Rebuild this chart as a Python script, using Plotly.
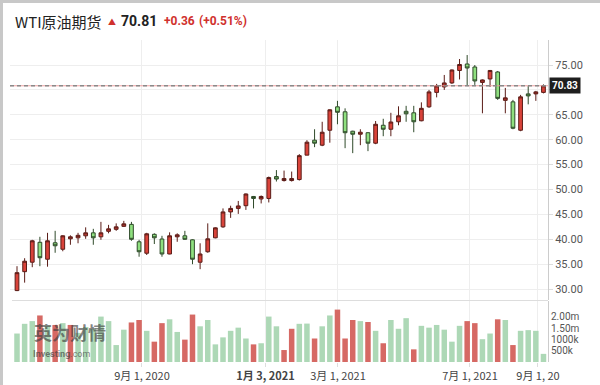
import plotly.graph_objects as go

# ---------------- data (weekly candles) ----------------
opens = [29.7, 33.5, 35.4, 39.4, 36.0, 39.3, 38.0, 40.1, 40.3, 40.7,
         41.3, 40.5, 41.6, 42.0, 42.6, 43.0, 39.5, 37.2, 41.0, 40.06,
         37.05, 40.5, 40.7, 39.9, 35.4, 37.5, 40.3, 42.5, 45.5, 46.2,
         46.75, 48.6, 48.1, 48.2, 52.6, 51.8, 51.8, 52.0, 56.9, 59.9,
         58.9, 61.9, 66.6, 65.6, 61.7, 61.1, 61.4, 59.3, 62.9, 62.1,
         63.6, 65.7, 65.4, 63.8, 66.6, 69.5, 70.6, 71.4, 73.9, 75.2,
         74.6, 71.5, 72.2, 73.6, 67.9, 67.6, 61.9, 69.2, 69.2, 69.5]
highs = [34.6, 36.2, 39.9, 40.5, 41.3, 41.7, 40.8, 40.8, 41.3, 42.4,
         42.1, 43.5, 42.9, 43.2, 43.7, 43.5, 39.9, 41.3, 41.2, 40.7,
         41.4, 41.2, 41.7, 40.0, 39.2, 43.2, 42.4, 46.2, 46.75, 47.7,
         49.2, 48.7, 48.8, 52.6, 53.9, 53.8, 53.6, 57.1, 59.9, 62.1,
         63.6, 66.1, 67.8, 66.3, 61.8, 62.1, 61.5, 63.75, 64.2, 65.4,
         66.7, 66.8, 66.8, 67.5, 70.0, 71.2, 73.0, 74.1, 76.2, 77.0,
         75.0, 72.1, 74.0, 73.8, 70.4, 68.0, 69.0, 70.8, 69.8, 71.1]
lows = [29.6, 31.3, 34.4, 34.6, 34.5, 37.3, 37.6, 38.9, 39.2, 40.1,
        38.9, 39.9, 41.2, 41.7, 42.5, 39.7, 36.5, 36.85, 39.05, 36.5,
        37.0, 39.5, 39.9, 35.0, 34.0, 37.3, 40.2, 42.3, 44.3, 45.1,
        45.9, 46.2, 47.2, 47.4, 51.6, 51.6, 51.6, 51.8, 56.9, 58.5,
        58.7, 59.4, 63.1, 58.3, 57.3, 58.9, 57.7, 59.1, 60.7, 60.7,
        62.9, 63.6, 61.5, 63.7, 66.4, 68.5, 70.0, 71.2, 72.1, 70.9,
        71.0, 65.3, 70.6, 68.0, 65.3, 62.1, 61.7, 67.1, 67.8, 69.3]
closes = [33.3, 35.6, 39.7, 36.3, 39.7, 38.7, 40.7, 40.5, 40.8, 41.3,
          40.3, 41.3, 42.1, 42.5, 43.1, 40.0, 37.5, 41.1, 40.3, 37.05,
          40.7, 40.9, 40.0, 36.0, 37.05, 40.1, 42.3, 45.5, 46.2, 46.7,
          49.1, 48.2, 48.6, 52.4, 52.1, 52.2, 52.2, 56.8, 59.5, 59.3,
          61.5, 66.0, 65.5, 61.4, 61.1, 61.5, 59.3, 63.1, 62.1, 63.55,
          64.8, 65.2, 63.6, 66.3, 69.6, 70.8, 71.4, 74.0, 75.1, 74.4,
          71.8, 72.0, 73.9, 68.3, 68.4, 62.3, 68.6, 68.8, 69.6, 70.83]
volumes = [1.26, 1.69, 1.81, 2.06, 1.60, 1.64, 1.72, 1.64, 1.29, 1.55,
           1.47, 2.01, 1.81, 0.75, 1.43, 1.75, 1.86, 1.38, 0.90, 1.72,
           1.89, 1.33, 0.99, 2.10, 1.58, 1.86, 0.78, 1.09, 1.38, 1.52,
           1.04, 0.78, 0.83, 2.01, 1.58, 0.53, 1.47, 1.69, 1.70, 1.04,
           1.58, 2.06, 2.32, 1.04, 1.86, 1.81, 1.77, 1.38, 0.83, 1.86,
           1.47, 1.94, 0.56, 1.60, 1.52, 1.64, 1.43, 0.90, 1.60, 1.81,
           1.72, 1.01, 1.26, 1.89, 1.86, 0.75, 1.38, 1.41, 1.38, 0.36]
volume_dir = "GGGRGRGRGGGGGGGRRGRRGGRRGGGGGGGRGGGRRGGRGGRRRGRGRGGGRGGGGGGRRGGRGRGGGG"

x_tick_pos = [16.38, 32.57, 42.07, 59.37, 68.28]
x_tick_text = ["9月 1, 2020", "<b>1月 3, 2021</b>", "3月 1, 2021", "7月 1, 2021", "9月 1, 20"]
price_ticks = [30, 35, 40, 45, 50, 55, 60, 65, 70, 75]
vol_tick_vals = [0.5, 1.0, 1.5, 2.0]
vol_tick_text = ["500k", "1000k", "1.50m", "2.00m"]
last_price = 70.83

title_name = "WTI原油期货"
title_price = "70.81"
title_change = "+0.36"
title_pct = "(+0.51%)"

# ---------------- layout helpers ----------------
W, H = 600, 385
L, R, T, B = 10, 52, 40, 23
PW, PH = W - L - R, H - T - B


def px(x):
    return (x - L) / PW


def py(y):
    return (H - B - y) / PH


xs = list(range(len(opens)))
vol_colors = ["#d4625c" if c == "R" else "#a9d6b3" for c in volume_dir]
# the 70.00 label is hidden behind the last-price tag in the reference
price_tick_text = ["" if v == 70 else "%.2f" % v for v in price_ticks]

fig = go.Figure()
fig.add_trace(go.Candlestick(
    x=xs, open=opens, high=highs, low=lows, close=closes,
    increasing=dict(fillcolor="#d9433a", line=dict(color="#5a1c17", width=1)),
    decreasing=dict(fillcolor="#8fe07f", line=dict(color="#2f4a2a", width=1)),
    hoverinfo="skip", showlegend=False, xaxis="x", yaxis="y"))
fig.add_trace(go.Bar(
    x=xs, y=volumes, marker=dict(color=vol_colors, line=dict(width=0)),
    opacity=0.95, hoverinfo="skip", showlegend=False, xaxis="x", yaxis="y2"))

price_bottom = py(300)
vol_top = py(301)

fig.update_layout(
    width=W, height=H,
    margin=dict(l=L, r=R, t=T, b=B, autoexpand=False),
    paper_bgcolor="white", plot_bgcolor="white",
    bargap=0.28,
    font=dict(family="Roboto, 'Noto Sans CJK SC', sans-serif", color="#555"),
    xaxis=dict(
        range=[(L - 17) / 7.63, (W - R - 17) / 7.63],
        anchor="y2", rangeslider=dict(visible=False), automargin=False,
        tickmode="array", tickvals=x_tick_pos, ticktext=x_tick_text,
        tickfont=dict(family="'Noto Sans CJK SC', Roboto, sans-serif", size=11, color="#444"),
        showgrid=True, gridcolor="#eeeeee", gridwidth=1,
        ticks="outside", ticklen=4, tickcolor="#dddddd",
        showline=False, zeroline=False, fixedrange=True),
    yaxis=dict(
        domain=[price_bottom, 1], side="right", anchor="x", automargin=False,
        range=[75 - (300 - 65) / 4.98, 75 - (40 - 65) / 4.98],
        tickmode="array", tickvals=price_ticks, ticktext=price_tick_text,
        tickfont=dict(size=11, color="#555"),
        showgrid=True, gridcolor="#eeeeee",
        ticks="outside", ticklen=4, tickcolor="#dddddd",
        showline=True, linecolor="#cccccc", linewidth=1,
        zeroline=False, fixedrange=True),
    yaxis2=dict(
        domain=[0, vol_top], side="right", anchor="x", automargin=False,
        range=[0, 2.70],
        tickmode="array", tickvals=vol_tick_vals, ticktext=vol_tick_text,
        tickfont=dict(size=10, color="#555"),
        showgrid=False, ticks="", ticklen=0,
        showline=True, linecolor="#cccccc", linewidth=1,
        zeroline=False, fixedrange=True),
)

shapes = [
    # current price line: pink solid with grey dashes
    dict(type="line", xref="paper", yref="y", x0=0, x1=1, y0=last_price, y1=last_price,
         line=dict(color="rgba(236,150,150,0.9)", width=1)),
    dict(type="line", xref="paper", yref="y", x0=0, x1=1, y0=last_price, y1=last_price,
         line=dict(color="#8a8a8a", width=1.3, dash="4px,3px")),
    # pane separator
    dict(type="line", xref="paper", yref="paper", x0=px(12), x1=1, y0=py(300.5), y1=py(300.5),
         line=dict(color="#dddddd", width=1)),
    # frame of the widget
    dict(type="line", xref="paper", yref="paper", x0=px(0), x1=px(W), y0=py(1.5), y1=py(1.5),
         line=dict(color="#c8c8c8", width=3)),
    dict(type="line", xref="paper", yref="paper", x0=px(1.5), x1=px(1.5), y0=py(0), y1=py(H),
         line=dict(color="#c8c8c8", width=3)),
]
fig.update_layout(shapes=shapes)

red = "#d0312d"
ann = [
    dict(x=px(13), y=py(21), text=title_name, xanchor="left", yanchor="middle",
         font=dict(size=15, color="#222", family="'Noto Sans CJK SC', sans-serif")),
    dict(x=px(106), y=py(22), text="▲", xanchor="left", yanchor="middle",
         font=dict(size=8, color=red)),
    dict(x=px(119), y=py(21), text="<b>" + title_price + "</b>", xanchor="left", yanchor="middle",
         font=dict(size=14, color="#222", family="Roboto, sans-serif")),
    dict(x=px(162), y=py(21), text="<b>" + title_change + "</b>", xanchor="left", yanchor="middle",
         font=dict(size=12, color=red, family="Roboto, sans-serif")),
    dict(x=px(197), y=py(21), text="<b>" + title_pct + "</b>", xanchor="left", yanchor="middle",
         font=dict(size=12, color=red, family="Roboto, sans-serif")),
    # last price tag
    dict(x=px(549), y=last_price, yref="y", text="<b>%.2f</b>" % last_price,
         xanchor="left", yanchor="middle", bgcolor="#1e1e1e", borderpad=2,
         font=dict(size=10, color="white", family="Roboto, sans-serif")),
    # watermark
    dict(x=px(70), y=py(332), text="<b>英为财情</b>", xanchor="center", yanchor="middle",
         font=dict(size=18, color="rgba(60,60,60,0.65)", family="'Noto Sans CJK SC', sans-serif")),
    dict(x=px(31), y=py(354), text="<b>Investing</b>.com", xanchor="left", yanchor="middle",
         font=dict(size=9, color="rgba(60,60,60,0.65)", family="Roboto, sans-serif")),
]
for a in ann:
    a.setdefault("xref", "paper")
    a.setdefault("yref", "paper")
    a["showarrow"] = False
fig.update_layout(annotations=ann)

fig.write_html("out.html", config={"displayModeBar": False},
               post_script="document.body.style.margin='0';document.body.style.overflow='hidden';")
